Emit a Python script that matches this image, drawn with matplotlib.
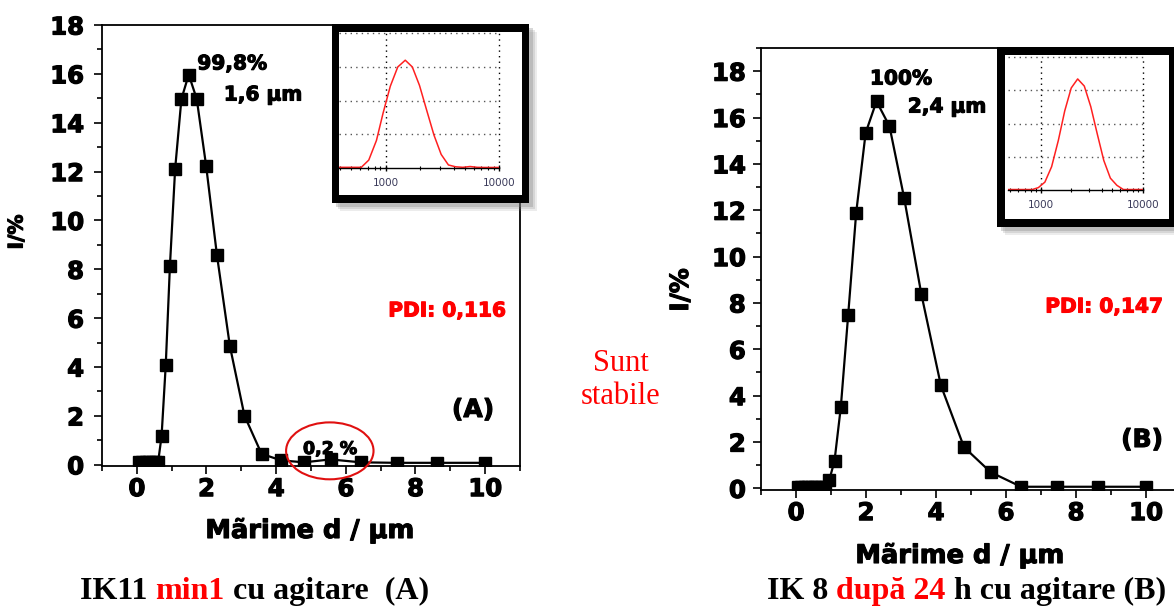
import matplotlib
matplotlib.use("Agg")
import matplotlib.pyplot as plt
import matplotlib.patheffects as pe
from matplotlib.patches import Rectangle, Ellipse
from matplotlib.ticker import MultipleLocator, FixedLocator, LogLocator, NullFormatter

# ---------------- data ----------------
size_um = [0.05, 0.15, 0.25, 0.35, 0.45, 0.53, 0.61, 0.71, 0.83, 0.95, 1.10, 1.28, 1.49,
           1.72, 1.99, 2.30, 2.67, 3.09, 3.58, 4.14, 4.80, 5.56, 6.43, 7.46, 8.62, 10.0]
intensity_A = [0.1, 0.1, 0.1, 0.1, 0.1, 0.1, 0.1, 1.17, 4.08, 8.14, 12.12, 14.97, 15.97,
               14.97, 12.23, 8.58, 4.87, 2.01, 0.45, 0.18, 0.1, 0.22, 0.1, 0.08, 0.08, 0.08]
intensity_B = [0.07, 0.07, 0.07, 0.07, 0.07, 0.07, 0.07, 0.07, 0.07, 0.36, 1.18, 3.5, 7.47,
               11.9, 15.34, 16.7, 15.63, 12.53, 8.39, 4.44, 1.78, 0.70, 0.07, 0.07, 0.07, 0.07]
size_nm = [s * 1000 for s in size_um]

x_major = [0, 2, 4, 6, 8, 10]
y_major = [0, 2, 4, 6, 8, 10, 12, 14, 16, 18]
inset_ticks = [1000, 10000]
inset_ticklabels = ["1000", "10000"]

W, H = 1174, 609
plt.rcParams['font.family'] = ['DejaVu Sans']
plt.rcParams['font.weight'] = 'bold'

fig = plt.figure(figsize=(W / 100, H / 100), dpi=100)


def heavy(color='black', w=0.9):
    return [pe.withStroke(linewidth=w, foreground=color)]


def fx(x):
    return x / W


def fy(y):
    return 1 - y / H


def main_axes(x0, y0, x1, y1, ylim, ypad):
    ax = fig.add_axes([fx(x0), fy(y1), (x1 - x0) / W, (y1 - y0) / H])
    ax.set_xlim(-1, 11)
    ax.set_ylim(*ylim)
    ax.set_xticks(x_major)
    ax.set_yticks(y_major)
    ax.xaxis.set_minor_locator(MultipleLocator(1))
    ax.yaxis.set_minor_locator(MultipleLocator(1))
    ax.tick_params(which='major', direction='out', length=6, width=1.2, labelsize=17.5)
    ax.tick_params(which='minor', direction='out', length=3.5, width=1.2)
    ax.tick_params(axis='x', pad=2)
    ax.tick_params(axis='y', pad=ypad)
    for sp in ax.spines.values():
        sp.set_linewidth(1.3)
    for lab in ax.get_xticklabels() + ax.get_yticklabels():
        lab.set_fontweight('bold')
        lab.set_path_effects(heavy())
    return ax


def inset(frame, area, xlim, xs, ys):
    ox0, oy0, ox1, oy1 = frame
    # shadow
    for off, a in [(8, 0.15), (6, 0.2), (4, 0.3)]:
        fig.add_artist(Rectangle((fx(ox0 + off), fy(oy1 + off)), (ox1 - ox0) / W, (oy1 - oy0) / H,
                                 transform=fig.transFigure, facecolor='#808080', edgecolor='none',
                                 alpha=a, zorder=3))
    fig.add_artist(Rectangle((fx(ox0), fy(oy1)), (ox1 - ox0) / W, (oy1 - oy0) / H,
                             transform=fig.transFigure, facecolor='black', edgecolor='none', zorder=4))
    fig.add_artist(Rectangle((fx(ox0 + 7.5), fy(oy1 - 8)), (ox1 - ox0 - 15) / W, (oy1 - oy0 - 16) / H,
                             transform=fig.transFigure, facecolor='white', edgecolor='none', zorder=5))
    ax0, ay0, ax1, ay1 = area
    ai = fig.add_axes([fx(ax0), fy(ay1), (ax1 - ax0) / W, (ay1 - ay0) / H], zorder=10)
    ai.patch.set_alpha(0)
    ai.set_xscale('log')
    ai.set_xlim(*xlim)
    ai.set_ylim(0, 20)
    for k in ['top', 'left', 'right']:
        ai.spines[k].set_visible(False)
    ai.spines['bottom'].set_linewidth(1.0)
    for yv in [5, 10, 15, 20]:
        ai.axhline(yv, color='#555555', ls=(0, (1, 3)), lw=1.0, clip_on=False)
    for xv in inset_ticks:
        ai.axvline(xv, color='black', ls=(0, (1, 3)), lw=1.0, clip_on=False)
    ai.plot(xs, ys, color='#ff2020', lw=1.1)
    ai.set_yticks([])
    ai.xaxis.set_major_locator(FixedLocator(inset_ticks))
    ai.set_xticklabels(inset_ticklabels)
    ai.xaxis.set_minor_locator(LogLocator(base=10, subs=range(2, 10)))
    ai.xaxis.set_minor_formatter(NullFormatter())
    ai.tick_params(which='major', direction='inout', length=5, width=1.0, pad=5,
                   labelsize=7.5, labelcolor='#3a3a5a')
    ai.tick_params(which='minor', direction='inout', length=3, width=0.8)
    for lab in ai.get_xticklabels():
        lab.set_fontweight('normal')
    return ai


# ---------------- chart A ----------------
axA = main_axes(102, 25, 520, 466, (-0.05, 18), 7)
axA.plot(size_um, intensity_A, color='black', lw=1.6, marker='s', ms=9)
axA.add_patch(Ellipse((5.54, 0.57), 2.51, 2.33, facecolor='none', edgecolor='#e01010',
                      lw=1.5, clip_on=False, zorder=5))
inset((332, 24, 529, 203), (339, 33, 499, 168), (388, 10000), size_nm, intensity_A)

# ---------------- chart B ----------------
axB = main_axes(761, 48, 1181, 490, (-0.07, 19), 5)
axB.plot(size_um, intensity_B, color='black', lw=1.6, marker='s', ms=9)
inset((997, 47, 1176, 227), (1008, 57, 1143, 190), (480, 10000), size_nm, intensity_B)


def ftext(x, y, s, stroke=True, **kw):
    kw.setdefault('ha', 'center')
    kw.setdefault('va', 'center')
    t = fig.text(fx(x), fy(y), s, **kw)
    if stroke:
        t.set_path_effects(heavy(kw.get('color', 'black'), 0.8))
    return t


# axis labels
ftext(17, 232, "I/%", rotation=90, fontsize=14.5, fontweight='bold')
ftext(681, 290, "I/%", rotation=90, fontsize=18, fontweight='bold')
ftext(310, 531, "Mãrime d / µm", fontsize=18.5, fontweight='bold')
ftext(960, 556, "Mãrime d / µm", fontsize=18.5, fontweight='bold')

# annotations A
ftext(232, 64, "99,8%", fontsize=14.5, fontweight='bold')
ftext(263, 95, "1,6 µm", fontsize=14.5, fontweight='bold')
ftext(447, 311, "PDI: 0,116", fontsize=14.5, fontweight='bold', color='#ff0000')
ftext(473, 410, "(A)", fontsize=18, fontweight='bold')
ftext(330, 449, "0,2 %", fontsize=12.5, fontweight='bold')

# annotations B
ftext(901, 79, "100%", fontsize=14.5, fontweight='bold')
ftext(947, 107, "2,4 µm", fontsize=14.5, fontweight='bold')
ftext(1104, 307, "PDI: 0,147", fontsize=14.5, fontweight='bold', color='#ff0000')
ftext(1142, 440, "(B)", fontsize=18, fontweight='bold')

# middle note
ftext(621, 380, "Sunt\nstabile", stroke=False, fontsize=22, fontweight='normal', color='#ff0000',
      family='Liberation Serif', linespacing=1.15)

# captions (multi-colour)
fig.canvas.draw()
renderer = fig.canvas.get_renderer()


def caption(x, y, pieces, size):
    cur = x
    for s, c in pieces:
        t = fig.text(fx(cur), fy(y), s, color=c, fontsize=size, fontweight='bold',
                     family='Liberation Serif', ha='left', va='baseline')
        bb = t.get_window_extent(renderer)
        cur += bb.width


caption(80, 599, [("IK11 ", 'black'), ("min1", '#ff0000'), (" cu agitare  (A)", 'black')], 23)
caption(767, 599, [("IK 8 ", 'black'), ("după 24", '#ff0000'), (" h cu agitare (B)", 'black')], 23)

fig.savefig("out.png", dpi=100)
